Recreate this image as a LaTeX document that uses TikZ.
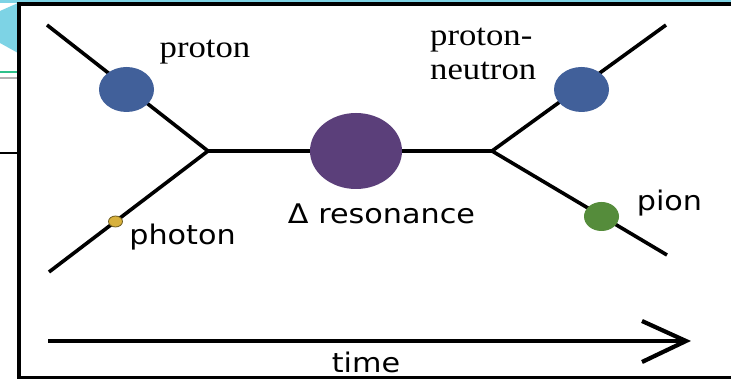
\documentclass[tikz,border=0pt]{standalone}
\usepackage{fontspec}
\usepackage{graphicx}
\setmainfont{Liberation Serif}
\newfontfamily\sansf{DejaVu Sans}
\usetikzlibrary{shapes.geometric,calc}
\definecolor{protblue}{HTML}{41609A}
\definecolor{deltapurple}{HTML}{5B3F7A}
\definecolor{piongreen}{HTML}{558C3B}
\definecolor{photyellow}{HTML}{D8B13C}
\definecolor{photedge}{HTML}{6B5A20}
\definecolor{slidecyan}{HTML}{7DD3E5}
\definecolor{slidegreen}{HTML}{2EC08A}
\newcommand\widetxt[1]{\scalebox{1.12}[1]{#1}}
\tikzset{
  track/.style={line width=3.6pt, line cap=butt},
  blob/.style={ellipse, inner sep=0pt, draw=none},
  seriflbl/.style={inner sep=0pt, font=\fontsize{31}{34}\selectfont},
  sanslbl/.style={inner sep=0pt, font=\sansf\fontsize{27}{30}\selectfont},
  timeline/.style={line width=4.2pt, line join=miter}
}
\begin{document}
\begin{tikzpicture}[x=1pt,y=-1pt]
\useasboundingbox (0,0) rectangle (731,379);
\clip (0,0) rectangle (731,379);
% slide background outside the frame
\fill[white] (0,0) rectangle (731,379);
\fill[slidecyan] (0,0) rectangle (731,3.5);
\fill[slidecyan] (0,11) -- (18,3) -- (18,53) -- (0,43) -- cycle;
\draw[slidegreen, line width=1.2pt] (0,72) -- (18,72);
\draw[gray!60, line width=1.2pt] (0,78) -- (18,78);
\draw[black, line width=2pt] (0,153) -- (18,153);
% frame
\draw[line width=4pt] (19,740) -- (19,4.5) -- (740,4.5);
\draw[line width=4pt] (17,377.5) -- (740,377.5);

% vertices and free ends
\coordinate (lv) at (208,151);
\coordinate (rv) at (492,151);
\coordinate (ulend) at (47,25);
\coordinate (llend) at (49,272);
\coordinate (urend) at (666,25);
\coordinate (lrend) at (667,255);

\draw[track] (ulend) -- (lv);
\draw[track] (llend) -- (lv);
\draw[track] (lv) -- (rv);
\draw[track] (rv) -- (urend);
\draw[track] (rv) -- (lrend);

\node[blob, fill=protblue, minimum width=55pt, minimum height=45pt] (proton) at (126.5,89.5) {};
\node[blob, fill=photyellow, draw=photedge, line width=0.8pt, minimum width=14pt, minimum height=11pt] (photon) at (115.5,221.5) {};
\node[blob, fill=deltapurple, minimum width=92pt, minimum height=76pt] (delta) at (356,151) {};
\node[blob, fill=protblue, minimum width=55pt, minimum height=45pt] (pn) at (581.5,89.5) {};
\node[blob, fill=piongreen, minimum width=35pt, minimum height=29pt] (pion) at (601.5,216.5) {};

% labels
\node[seriflbl, anchor=base] (protonlbl) at (205,58) {\widetxt{proton}};
\node[seriflbl, anchor=base west] (pnlbl1) at (430,46) {\widetxt{proton-}};
\node[seriflbl, anchor=base west] (pnlbl2) at (430,80) {\widetxt{neutron}};
\node[sanslbl, anchor=base] (photonlbl) at (182.5,245) {\widetxt{photon}};
\node[sanslbl, anchor=base] (deltalbl) at (381.5,224) {\widetxt{Δ resonance}};
\node[sanslbl, anchor=base] (pionlbl) at (669.5,211) {\widetxt{pion}};
\node[sanslbl, anchor=base] (timelbl) at (366,372.5) {\widetxt{time}};

% time arrow
\coordinate (tstart) at (48,341);
\coordinate (ttip) at (686,341);
\draw[timeline] (tstart) -- (ttip);
\draw[timeline] ($(ttip)+(-44,-20)$) -- (ttip) -- ($(ttip)+(-44,21)$);
\end{tikzpicture}
\end{document}
